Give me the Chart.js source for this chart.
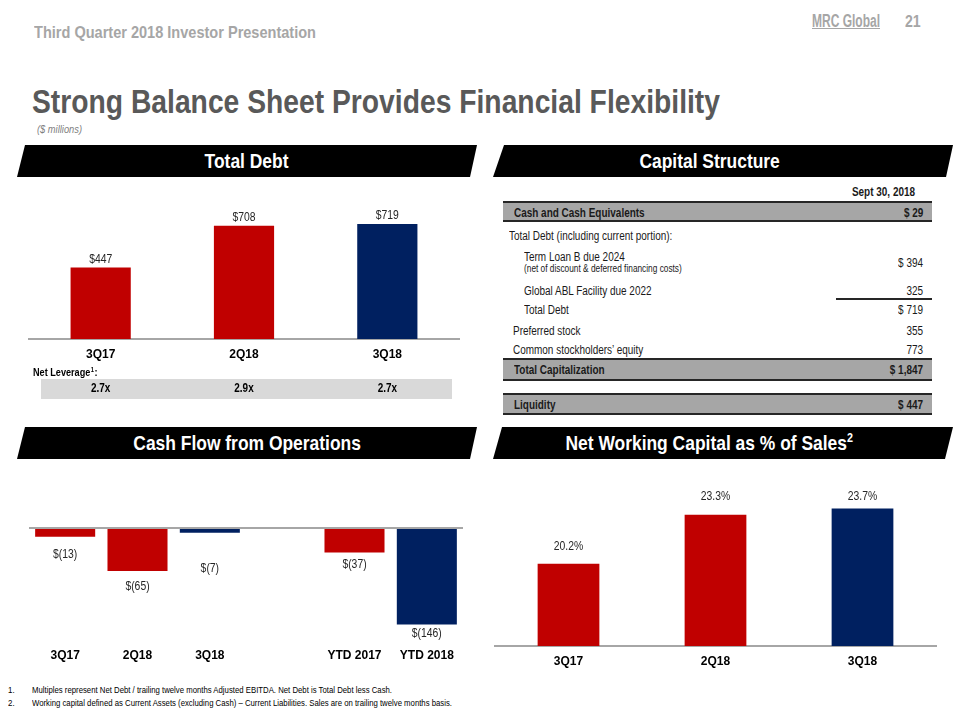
<!DOCTYPE html>
<html>
<head>
<meta charset="utf-8">
<script src="https://cdn.jsdelivr.net/npm/chart.js@4.4.1/dist/chart.umd.min.js"></script>
<style>
  body { margin: 0; width: 960px; height: 720px; position: relative; overflow: hidden; background: #fff;
         font-family: "Liberation Sans Narrow", "Arial Narrow", "Liberation Sans", sans-serif; }
  .abs { position: absolute; white-space: nowrap; }
  .n { display: inline-block; transform: scaleX(0.83); transform-origin: left center; white-space: nowrap; }
  .banner { position: absolute; height: 32px; background: #000; color: #fff; font-weight: bold;
            font-size: 21px; line-height: 32px; text-align: center; }
  .banner .n { transform-origin: center center; }
  .banner sup { font-size: 13px; line-height: 0; }
  canvas { position: absolute; }
  .row { position: absolute; height: 16px; line-height: 16px; font-size: 12px; color: #1a1a1a; white-space: nowrap; }
  .band { position: absolute; left: 503px; width: 429px; background: #a6a6a6;
          border-top: 2px solid #262626; border-bottom: 2px solid #262626; box-sizing: border-box; }
</style>
</head>
<body>

<div class="abs" style="left:34px;top:23px;font-size:17px;font-weight:bold;color:#a6a6a6;"><span class="n" data-fit="282">Third Quarter 2018 Investor Presentation</span></div>
<div class="abs" style="left:812px;top:11px;font-size:18px;font-weight:bold;color:#a6a6a6;font-family:'Liberation Sans',sans-serif;"><span class="n" data-fit="68" style="text-decoration:underline;">MRC Global</span></div>
<div class="abs" style="left:905px;top:12px;font-size:17px;font-weight:bold;color:#a6a6a6;"><span class="n">21</span></div>

<div class="abs" style="left:32px;top:82px;font-size:34px;font-weight:bold;color:#595959;"><span class="n" data-fit="688">Strong Balance Sheet Provides Financial Flexibility</span></div>
<div class="abs" style="left:37px;top:123px;font-size:11.5px;font-style:italic;color:#7f7f7f;"><span class="n" data-fit="45">($ millions)</span></div>

<div class="banner" style="left:17px;top:145px;width:460px;clip-path:polygon(8px 0,100% 0,calc(100% - 7px) 100%,0 100%);"><span class="n">Total Debt</span></div>
<div class="banner" style="left:493px;top:145px;width:460px;padding-right:26px;box-sizing:border-box;clip-path:polygon(11px 0,100% 0,calc(100% - 7px) 100%,0 100%);"><span class="n">Capital Structure</span></div>
<div class="banner" style="left:17px;top:427px;width:460px;clip-path:polygon(8px 0,100% 0,calc(100% - 7px) 100%,0 100%);"><span class="n">Cash Flow from Operations</span></div>
<div class="banner" style="left:493px;top:427px;width:460px;padding-right:28px;box-sizing:border-box;clip-path:polygon(9px 0,100% 0,calc(100% - 8px) 100%,0 100%);"><span class="n">Net Working Capital as % of Sales<sup>2</sup></span></div>

<canvas id="debtChart" width="460" height="215" style="left:17px;top:190px;"></canvas>
<canvas id="cfoChart" width="460" height="205" style="left:17px;top:465px;"></canvas>
<canvas id="nwcChart" width="460" height="200" style="left:493px;top:475px;"></canvas>

<div id="capTable"></div>

<div class="abs" style="left:8px;top:684px;font-size:9.5px;color:#000;"><span class="n">1.</span></div>
<div class="abs" style="left:32px;top:684px;font-size:9.5px;color:#000;"><span class="n" data-fit="360">Multiples represent Net Debt / trailing twelve months Adjusted EBITDA. Net Debt is Total Debt less Cash.</span></div>
<div class="abs" style="left:8px;top:697px;font-size:9.5px;color:#000;"><span class="n">2.</span></div>
<div class="abs" style="left:32px;top:697px;font-size:9.5px;color:#000;"><span class="n" data-fit="420">Working capital defined as Current Assets (excluding Cash) &ndash; Current Liabilities. Sales are on trailing twelve months basis.</span></div>

<script>
// Total Debt
const debtLabels = ['3Q17', '2Q18', '3Q18'];
const debtValues = [447, 708, 719];
const netLeverage = [2.7, 2.9, 2.7];

// Cash Flow from Operations (blank slot between quarters and YTD)
const cfoLabels = ['3Q17', '2Q18', '3Q18', '', 'YTD 2017', 'YTD 2018'];
const cfoValues = [-13, -65, -7, null, -37, -146];

// Net Working Capital as % of Sales
const nwcLabels = ['3Q17', '2Q18', '3Q18'];
const nwcValues = [20.2, 23.3, 23.7];

// Capital Structure table
const capHeader = 'Sept 30, 2018';
const capLabels = ['Cash and Cash Equivalents', 'Total Debt (including current portion):', 'Term Loan B due 2024',
  'Global ABL Facility due 2022', 'Total Debt', 'Preferred stock', 'Common stockholders\u2019 equity',
  'Total Capitalization', 'Liquidity'];
const capValues = [29, null, 394, 325, 719, 355, 773, 1847, 447];

const RED = '#C00000';
const NAVY = '#002060';
const FONT = '"Liberation Sans Narrow", "Arial Narrow", "Liberation Sans", sans-serif';
const SQUEEZE = 0.83;

Chart.defaults.font.family = FONT;

// squeeze text horizontally to imitate a narrow face
function narrowText(ctx, text, x, y) {
  ctx.save();
  ctx.translate(x, y);
  ctx.scale(SQUEEZE, 1);
  ctx.fillText(text, 0, 0);
  ctx.restore();
}

// draws value text above/below each bar
const valueLabelPlugin = {
  id: 'valueLabels',
  afterDatasetsDraw(chart, args, opts) {
    const ctx = chart.ctx;
    const data = chart.data.datasets[0].data;
    ctx.save();
    ctx.font = '12.5px ' + FONT;
    ctx.fillStyle = '#262626';
    ctx.textAlign = 'center';
    ctx.textBaseline = 'middle';
    chart.getDatasetMeta(0).data.forEach((bar, i) => {
      const v = data[i];
      if (v === null) return;
      const shift = opts.offsets[i];
      const y = v >= 0 ? bar.y - shift : bar.y + shift;
      narrowText(ctx, opts.format(v), bar.x, y);
    });
    ctx.restore();
  }
};

// net leverage strip under the total debt bars
const leveragePlugin = {
  id: 'leverage',
  afterDraw(chart, args, opts) {
    if (!opts.values) return;
    const ctx = chart.ctx;
    const x = chart.scales.x;
    ctx.save();
    ctx.fillStyle = '#d9d9d9';
    ctx.fillRect(24, 189, 411, 20);
    ctx.fillStyle = '#000';
    ctx.textBaseline = 'middle';
    ctx.textAlign = 'left';
    ctx.save();
    ctx.translate(16, 183);
    ctx.scale(SQUEEZE, 1);
    ctx.font = 'bold 11px ' + FONT;
    ctx.fillText('Net Leverage', 0, 0);
    const w = ctx.measureText('Net Leverage').width;
    ctx.font = 'bold 7px ' + FONT;
    ctx.fillText('1', w + 0.5, -3);
    ctx.font = 'bold 11px ' + FONT;
    ctx.fillText(':', w + 5, 0);
    ctx.restore();
    ctx.textAlign = 'center';
    ctx.font = 'bold 12px ' + FONT;
    opts.values.forEach((v, i) => {
      narrowText(ctx, v.toFixed(1) + 'x', x.getPixelForValue(i), 199);
    });
    ctx.restore();
  }
};

function xAxis(height, pad, showLine) {
  return {
    grid: { display: false, drawTicks: false },
    border: { display: showLine, color: '#a6a6a6', width: 2 },
    ticks: { color: '#000', padding: pad, font: { size: 12, weight: 'bold' }, maxRotation: 0, autoSkip: false },
    afterFit(scale) { scale.height = height; }
  };
}

new Chart(document.getElementById('debtChart'), {
  type: 'bar',
  data: {
    labels: debtLabels,
    datasets: [{ data: debtValues, backgroundColor: [RED, RED, NAVY], barPercentage: 0.42, categoryPercentage: 1 }]
  },
  options: {
    responsive: false,
    animation: false,
    layout: { padding: { left: 12, right: 18, top: 13, bottom: 42 } },
    plugins: {
      legend: { display: false },
      tooltip: { enabled: false },
      valueLabels: { offsets: [8, 8, 8], format: v => '$' + v },
      leverage: { values: netLeverage }
    },
    scales: {
      x: xAxis(24, 8, true),
      y: { display: false, min: 0, max: 850 }
    }
  },
  plugins: [valueLabelPlugin, leveragePlugin]
});

new Chart(document.getElementById('cfoChart'), {
  type: 'bar',
  data: {
    labels: cfoLabels,
    datasets: [{ data: cfoValues, backgroundColor: [RED, RED, NAVY, RED, RED, NAVY], barPercentage: 0.83, categoryPercentage: 1 }]
  },
  options: {
    responsive: false,
    animation: false,
    layout: { padding: { left: 12, right: 14, top: 5, bottom: 0 } },
    plugins: {
      legend: { display: false },
      tooltip: { enabled: false },
      valueLabels: { offsets: [18, 16, 36, 0, 12, 9], format: v => '$(' + (-v) + ')' }
    },
    scales: {
      x: xAxis(33, 11, false),
      y: {
        min: -165, max: 88,
        border: { display: false },
        ticks: { display: false },
        grid: { drawTicks: false, color: '#a6a6a6', lineWidth: 2 },
        afterBuildTicks(scale) { scale.ticks = [{ value: 0 }]; }
      }
    }
  },
  plugins: [valueLabelPlugin]
});

new Chart(document.getElementById('nwcChart'), {
  type: 'bar',
  data: {
    labels: nwcLabels,
    datasets: [{ data: nwcValues, backgroundColor: [RED, RED, NAVY], barPercentage: 0.42, categoryPercentage: 1 }]
  },
  options: {
    responsive: false,
    animation: false,
    layout: { padding: { left: 2, right: 17, top: 5, bottom: 0 } },
    plugins: {
      legend: { display: false },
      tooltip: { enabled: false },
      valueLabels: { offsets: [17, 18, 12], format: v => v.toFixed(1) + '%' }
    },
    scales: {
      x: xAxis(29, 8, true),
      y: { display: false, min: 15, max: 25.5 }
    }
  },
  plugins: [valueLabelPlugin]
});

// capital structure table layout
const capRowY = [213, 236, 257, 291, 310, 331, 350, 370, 405];
const capIndent = [514, 509, 524, 524, 524, 513, 513, 514, 514];
const capBold = [true, false, false, false, false, false, false, true, true];
const capDollar = [true, false, true, false, true, false, false, true, true];
const bands = [[201, 222], [358, 381], [393, 415]];

const table = document.getElementById('capTable');
bands.forEach(b => {
  const d = document.createElement('div');
  d.className = 'band';
  d.style.top = b[0] + 'px';
  d.style.height = (b[1] - b[0]) + 'px';
  table.appendChild(d);
});

function addText(text, y, opts) {
  const d = document.createElement('div');
  d.className = 'row';
  const s = document.createElement('span');
  s.className = 'n';
  s.textContent = text;
  d.appendChild(s);
  d.style.top = (y - 8) + 'px';
  if (opts.left !== undefined) d.style.left = opts.left + 'px';
  if (opts.right !== undefined) {
    d.style.right = (960 - opts.right) + 'px';
    d.style.textAlign = 'right';
    s.style.transformOrigin = 'right center';
  }
  if (opts.bold) d.style.fontWeight = 'bold';
  if (opts.size) d.style.fontSize = opts.size + 'px';
  table.appendChild(d);
}

addText(capHeader, 192, { right: 915, bold: true });
const rule = document.createElement('div');
rule.style.cssText = 'position:absolute;left:503px;top:201px;width:429px;height:2px;background:#262626;';
table.appendChild(rule);

capLabels.forEach((label, i) => {
  addText(label, capRowY[i], { left: capIndent[i], bold: capBold[i] });
  const v = capValues[i];
  if (v === null) return;
  const txt = (capDollar[i] ? '$ ' : '') + v.toLocaleString('en-US');
  const vy = i === 2 ? 263 : capRowY[i];
  addText(txt, vy, { right: 923, bold: capBold[i] });
});
addText('(net of discount & deferred financing costs)', 269, { left: 524, size: 10 });

const under = document.createElement('div');
under.style.cssText = 'position:absolute;left:836px;top:298px;width:96px;height:2px;background:#262626;';
table.appendChild(under);

// fit header/footer texts to the widths measured on the slide
document.querySelectorAll('[data-fit]').forEach(el => {
  el.style.transform = 'none';
  const w = el.getBoundingClientRect().width;
  el.style.transform = 'scaleX(' + (Number(el.dataset.fit) / w) + ')';
});
</script>
</body>
</html>
